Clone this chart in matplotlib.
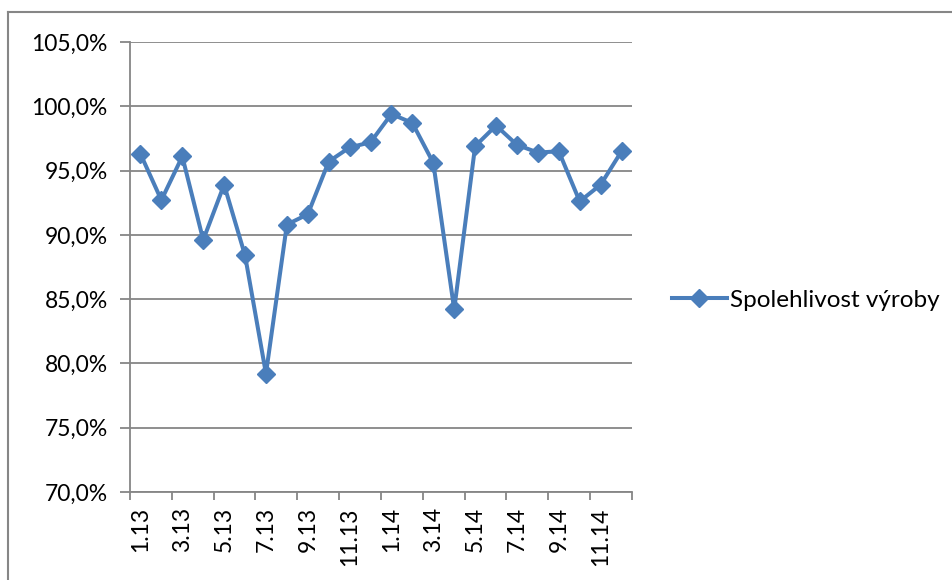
import matplotlib
matplotlib.use("Agg")
import matplotlib.pyplot as plt
from matplotlib.lines import Line2D
from matplotlib.ticker import FixedLocator, FuncFormatter

months = [f"{m}.13" for m in range(1, 13)] + [f"{m}.14" for m in range(1, 13)]
reliability = [96.3, 92.7, 96.1, 89.6, 93.9, 88.4, 79.2, 90.8, 91.6, 95.7, 96.8, 97.2,
               99.4, 98.7, 95.6, 84.2, 96.9, 98.5, 97.0, 96.4, 96.5, 92.6, 93.9, 96.5]
series_name = "Spolehlivost výroby"
y_ticks = [70, 75, 80, 85, 90, 95, 100, 105]

W, H = 953, 580
BLUE = "#4A7EBB"
GRID = "#868686"

plt.rcParams["font.family"] = ["Lato", "DejaVu Sans"]

fig = plt.figure(figsize=(W / 100, H / 100), dpi=100)
ax = fig.add_axes([130 / W, (H - 492) / H, 502 / W, 450 / H])

x = list(range(len(months)))
ax.plot(x, reliability, color=BLUE, lw=2.9, marker="D", markersize=9.5,
        markeredgecolor=BLUE, markerfacecolor=BLUE, label=series_name)

ax.set_xlim(-0.5, len(months) - 0.5)
ax.set_ylim(70, 105)
ax.set_yticks(y_ticks)
ax.yaxis.set_major_formatter(FuncFormatter(lambda v, p: f"{v:.1f}%".replace(".", ",")))
ax.grid(axis="y", color=GRID, lw=1.3)
ax.set_axisbelow(True)

# category boundary ticks every 2 months, labels under odd months
ax.xaxis.set_major_locator(FixedLocator([i - 0.5 for i in range(0, len(months) + 1, 2)]))
ax.xaxis.set_major_formatter(FuncFormatter(lambda v, p: ""))
ax.xaxis.set_minor_locator(FixedLocator(list(range(0, len(months), 2))))
ax.set_xticklabels(months[::2], minor=True, rotation=90, fontsize=16.5)
ax.tick_params(axis="x", which="major", length=6, width=1.3, color=GRID, direction="out")
ax.tick_params(axis="x", which="minor", length=0, pad=11)
ax.tick_params(axis="y", length=7, width=1.3, color=GRID, labelsize=16.5, pad=9)

for s in ["top", "right"]:
    ax.spines[s].set_visible(False)
for s in ["left", "bottom"]:
    ax.spines[s].set_color(GRID)
    ax.spines[s].set_linewidth(1.3)

fig.legend(handles=[Line2D([], [], color=BLUE, lw=2.9, marker="D", markersize=9.5)],
           labels=[series_name], loc="center left", bbox_to_anchor=(672 / W, 1 - 300 / H),
           frameon=False, fontsize=17.5, handlelength=2.25, handletextpad=0.15,
           borderaxespad=0, borderpad=0)

# outer chart frame
fig.add_artist(Line2D([8 / W, 8 / W], [0, 1 - 12 / H], color=GRID, lw=1.5))
fig.add_artist(Line2D([8 / W, 1], [1 - 12 / H, 1 - 12 / H], color=GRID, lw=1.5))

fig.savefig("out.png", dpi=100)
